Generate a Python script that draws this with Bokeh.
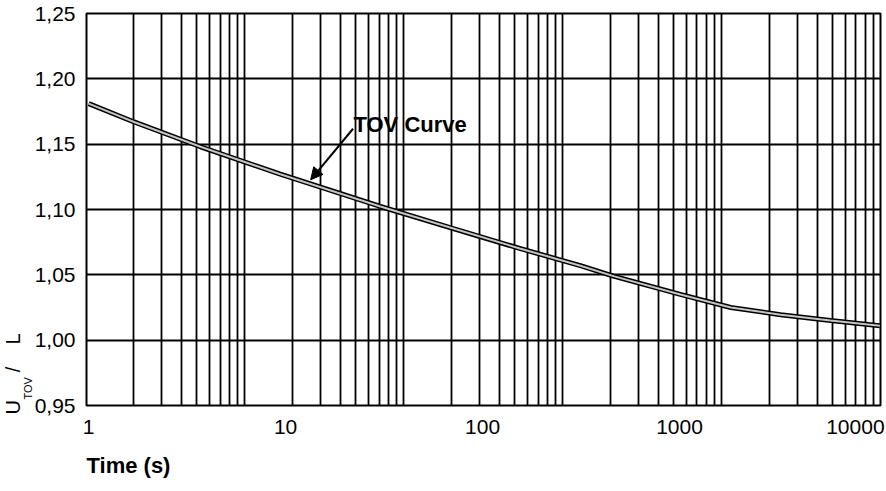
from bokeh.plotting import figure
from bokeh.models import FixedTicker, Label, Arrow, NormalHead, Title, Range1d
from bokeh.embed import file_html
from bokeh.resources import INLINE

# ---- data ----
time_s = [1, 1.7, 3.7, 9.4, 30, 69, 156, 314, 462, 1010, 1820, 3260, 5840, 10400]
u_ratio = [1.181, 1.167, 1.148, 1.127, 1.1025, 1.086, 1.070, 1.057, 1.049,
           1.035, 1.025, 1.0195, 1.015, 1.011]

x_ticks = [1, 10, 100, 1000, 10000]
x_labels = ["1", "10", "100", "1000", "10000"]
y_ticks = [0.95, 1.00, 1.05, 1.10, 1.15, 1.20, 1.25]
y_labels = ["0,95", "1,00", "1,05", "1,10", "1,15", "1,20", "1,25"]
x_title = "Time (s)"

# vertical grid lines of the printed chart paper
grid_x = [1.692, 2.347, 2.961, 3.545, 4.107, 4.651, 5.179, 5.697, 6.203,
          10.85, 15.05, 18.99, 22.73, 26.33, 29.83, 33.21, 36.53, 39.78,
          69.56, 96.48, 121.7, 145.7, 168.8, 191.2, 212.9, 234.2, 255.0,
          446.0, 618.6, 780.5, 934.4, 1082, 1226, 1365, 1502, 1635,
          2860, 3967, 5005, 5992, 6941, 7862, 8754, 9630]

x_min, x_max = 0.975, 10480
y_min, y_max = 0.95, 1.25

curve_label = "TOV Curve"
label_pos = (22.1, 1.165)
arrow_start = (22.0, 1.1618)
arrow_end = (13.4, 1.1227)

FONT = "Liberation Sans"
NB = "\u00a0"

p = figure(width=886, height=491, x_axis_type="log",
           x_range=Range1d(x_min, x_max), y_range=Range1d(y_min, y_max),
           output_backend="svg", toolbar_location=None,
           min_border_left=86, min_border_right=6, min_border_top=13,
           min_border_bottom=86)
p.background_fill_color = "white"
p.border_fill_color = "white"
p.outline_line_color = "black"
p.outline_line_width = 2

# x tick labels; the last one is nudged left (as printed) so it fits on the page
last_label_nudge = 1.28
x_tick_pos = x_ticks[:-1] + [x_ticks[-1] / last_label_nudge]
p.xaxis.ticker = FixedTicker(ticks=x_tick_pos)
p.xaxis.major_label_overrides = {t: l for t, l in zip(x_tick_pos, x_labels)}
p.yaxis.ticker = FixedTicker(ticks=y_ticks)
p.yaxis.major_label_overrides = {t: l for t, l in zip(y_ticks, y_labels)}
for ax in (p.xaxis[0], p.yaxis[0]):
    ax.axis_line_color = None
    ax.major_tick_line_color = None
    ax.minor_tick_line_color = None
    ax.major_tick_out = 0
    ax.major_tick_in = 0
    ax.major_label_text_font = FONT
    ax.major_label_text_font_size = "21px"
    ax.major_label_text_color = "black"
p.xaxis.major_label_standoff = 14
p.yaxis.major_label_standoff = 11

# grids
p.xgrid.ticker = FixedTicker(ticks=grid_x)
for g in (p.xgrid[0], p.ygrid[0]):
    g.grid_line_color = "black"
    g.grid_line_width = 1.8
    g.grid_line_alpha = 1.0

# curve (double-edged printed line)
p.line(time_s, u_ratio, line_color="black", line_width=5)
p.line(time_s, u_ratio, line_color="#c4c4c4", line_width=2)

# annotation
p.add_layout(Label(x=label_pos[0], y=label_pos[1], text=curve_label,
                   text_align="left", text_baseline="alphabetic", text_font=FONT,
                   text_font_size="22px", text_font_style="bold", text_color="black"))
p.add_layout(Arrow(x_start=arrow_start[0], y_start=arrow_start[1],
                   x_end=arrow_end[0], y_end=arrow_end[1],
                   line_color="black", line_width=2,
                   end=NormalHead(size=12, fill_color="black", line_color="black")))

# x axis title (left-aligned, as printed)
p.add_layout(Title(text=x_title, align="left", text_font=FONT,
                   text_font_size="22px", text_font_style="bold", standoff=28,
                   text_color="black"), "below")

# y axis title: U with subscript TOV, then " / L" (bottom-aligned as printed)
p.add_layout(Title(text="TOV", align="left", offset=6, standoff=-4, text_font=FONT,
                   text_font_size="11px", text_font_style="normal",
                   text_color="black"), "left")
p.add_layout(Title(text="U" + NB * 5 + "/" + NB * 4 + "L", align="left", offset=-9,
                   standoff=-5, text_font=FONT, text_font_size="20px",
                   text_font_style="normal", text_color="black"), "left")

open("out.html", "w").write(file_html(p, INLINE))
